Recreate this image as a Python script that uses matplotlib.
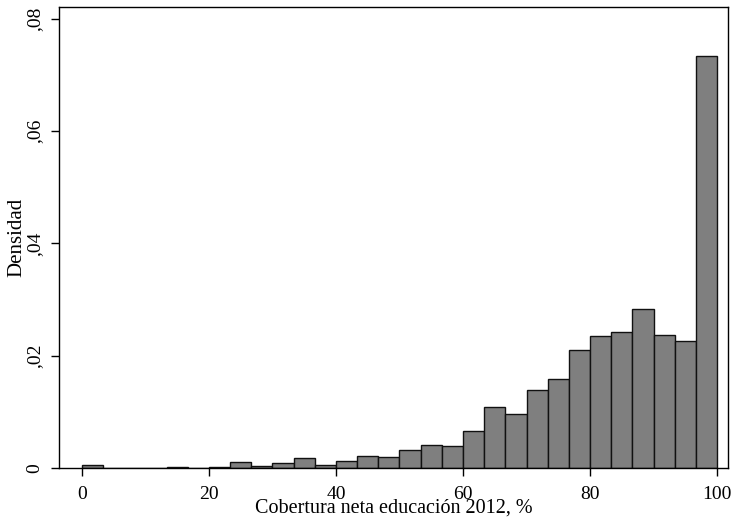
import numpy as np
import matplotlib.pyplot as plt

plt.rcParams['font.family'] = ['Liberation Serif', 'DejaVu Serif']

# histogram: 30 bins of width 100/30 from 0 to 100
bin_edges = np.linspace(0, 100, 31)
density = [0.0005, 0.0, 0.0, 0.0, 0.0002, 0.0, 0.0002, 0.001, 0.0004, 0.0008,
           0.0017, 0.0005, 0.0012, 0.0021, 0.0019, 0.0032, 0.0041, 0.0039, 0.0065, 0.0109,
           0.0097, 0.0138, 0.0159, 0.021, 0.0235, 0.0243, 0.0284, 0.0237, 0.0227, 0.0733]
yticks = [0, 0.02, 0.04, 0.06, 0.08]
ytick_labels = ['0', ',02', ',04', ',06', ',08']
xticks = [0, 20, 40, 60, 80, 100]

fig = plt.figure(figsize=(7.33, 5.19), dpi=100)
ax = fig.add_axes([0.0805, 0.0983, 0.9125, 0.8882])

ax.bar(bin_edges[:-1], density, width=np.diff(bin_edges), align='edge',
       color='#7f7f7f', edgecolor='#111111', linewidth=1.0)

ax.set_xlim(-3.6, 101.7)
ax.set_ylim(0, 0.0821)
ax.set_xticks(xticks)
ax.set_xticklabels([str(x) for x in xticks], fontsize=14)
ax.set_yticks(yticks)
ax.set_yticklabels(ytick_labels, fontsize=14, rotation=90, va='center')
ax.tick_params(axis='x', direction='out', length=6, width=1, pad=7)
ax.tick_params(axis='y', direction='out', length=6, width=1, pad=5)

ax.set_xlabel('Cobertura neta educación 2012, %', fontsize=14.5, labelpad=-3)
ax.set_ylabel('Densidad', fontsize=15, labelpad=0)

for s in ax.spines.values():
    s.set_linewidth(1.0)

fig.savefig('out.png', dpi=100)
